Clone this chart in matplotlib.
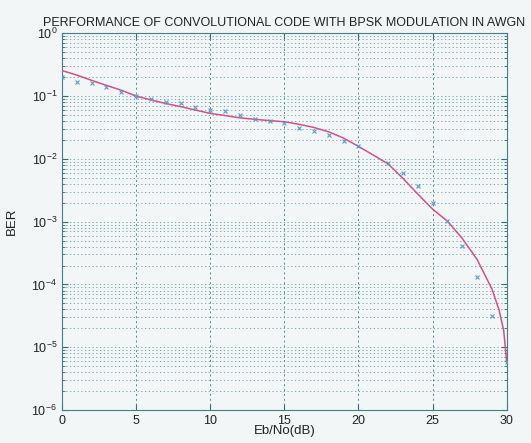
import matplotlib
matplotlib.use("Agg")
import matplotlib.pyplot as plt
import numpy as np
from matplotlib.ticker import LogLocator, FixedLocator, NullFormatter

plt.rcParams['font.family'] = ['Liberation Sans', 'DejaVu Sans']

# Fitted / theoretical curve (Eb/No in dB, BER)
ebno_curve = [0, 1, 2, 3, 4, 5, 6, 7, 8, 9, 10, 11, 12, 13, 14, 15, 16, 17, 18, 19,
              20, 21, 22, 23, 24, 25, 26, 27, 28, 29, 29.5, 29.8, 30]
ber_curve = [0.255, 0.216, 0.178, 0.148, 0.124, 0.100, 0.087, 0.076, 0.068, 0.060,
             0.053, 0.049, 0.045, 0.0427, 0.0407, 0.039, 0.0355, 0.0316, 0.0269, 0.0214,
             0.0158, 0.0115, 0.0083, 0.0049, 0.00275, 0.00158, 0.00102, 5.4e-4, 2.5e-4,
             8.5e-5, 3.8e-5, 1.8e-5, 5.75e-6]

# Simulated points
ebno_sim = [0, 1, 2, 3, 4, 5, 6, 7, 8, 9, 10, 11, 12, 13, 14, 15, 16, 17, 18, 19,
            20, 22, 23, 24, 25, 26, 27, 28, 29, 30]
ber_sim = [0.20, 0.17, 0.162, 0.141, 0.117, 0.100, 0.089, 0.081, 0.079, 0.068,
           0.060, 0.057, 0.050, 0.043, 0.040, 0.037, 0.031, 0.0275, 0.024, 0.0195,
           0.0158, 0.0085, 0.0060, 0.0037, 0.0020, 0.00102, 4.1e-4, 1.3e-4, 3.2e-5, 5.9e-6]

x_ticks = [0, 5, 10, 15, 20, 25, 30]
y_ticks = [1e-6, 1e-5, 1e-4, 1e-3, 1e-2, 1e-1, 1]

fig = plt.figure(figsize=(5.31, 4.43), dpi=100)
fig.patch.set_facecolor('#f3f6f6')
ax = fig.add_axes([0.1168, 0.0745, 0.8375, 0.8503])
ax.set_facecolor('#f3f6f6')

ax.set_yscale('log')
ax.set_xlim(0, 30)
ax.set_ylim(1e-6, 1)
ax.xaxis.set_major_locator(FixedLocator(x_ticks))
ax.yaxis.set_major_locator(FixedLocator(y_ticks))
minor_vals = [m * 10.0 ** e for e in range(-6, 0) for m in range(2, 10)]
ax.yaxis.set_minor_locator(FixedLocator(minor_vals))
ax.yaxis.set_minor_formatter(NullFormatter())

grid_col = '#5f9ea5'
ax.grid(True, which='major', axis='x', color='#4a8c94', linestyle=(0, (2, 3)), linewidth=0.7)
ax.grid(True, which='major', axis='y', color=grid_col, linestyle=(0, (1.5, 3)), linewidth=0.6)
ax.grid(True, which='minor', axis='y', color=grid_col, linestyle=(0, (1.5, 3)), linewidth=0.6)

ax.plot(ebno_curve, ber_curve, color='#d4508c', linewidth=1.1, zorder=3)
ax.plot(ebno_sim, ber_sim, linestyle='none', marker='x', markersize=3.5,
        markeredgewidth=0.8, color='#5a9cc8', zorder=4)

ax.tick_params(which='both', direction='in', colors='#2f6f78', labelcolor='#222222',
               labelsize=9, top=True, right=True)
ax.tick_params(which='major', length=4)
ax.tick_params(which='minor', length=2)
for sp in ax.spines.values():
    sp.set_color('#3f7f88')
    sp.set_linewidth(0.8)

ax.set_title('PERFORMANCE OF CONVOLUTIONAL CODE WITH BPSK MODULATION IN AWGN',
             fontsize=9, color='#222222', pad=5)
ax.set_xlabel('Eb/No(dB)', fontsize=9.5, color='#222222', labelpad=-1)
ax.set_ylabel('BER', fontsize=9.5, color='#222222', labelpad=10)

fig.savefig('out.png', dpi=100, facecolor=fig.get_facecolor())
